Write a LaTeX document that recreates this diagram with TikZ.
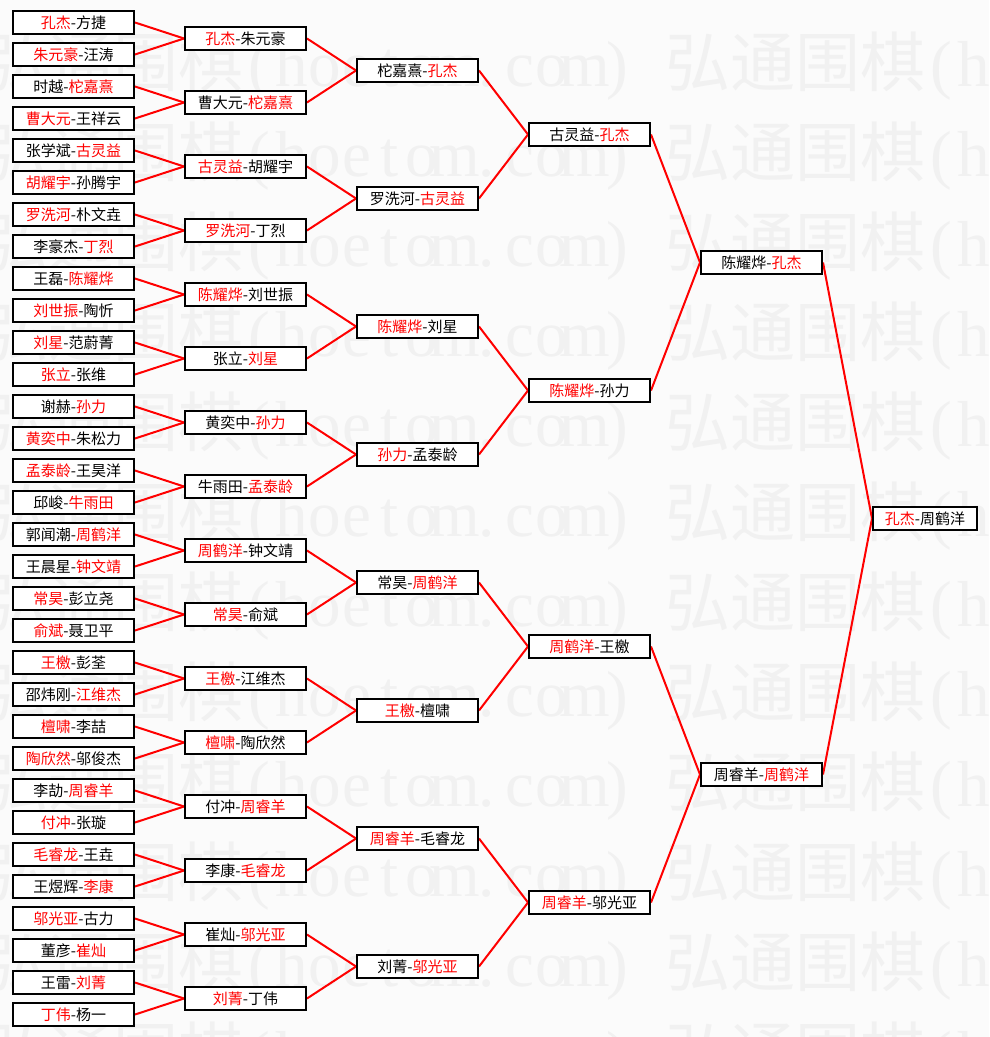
\documentclass[tikz,border=0pt]{standalone}
\usepackage{fontspec}
\newfontfamily\cjk{Noto Sans CJK SC}
\newfontfamily\wmlat{Liberation Serif}
\pgfdeclarelayer{bg}
\pgfsetlayers{bg,main}
\definecolor{wmgray}{RGB}{241,241,241}
\definecolor{pagebg}{RGB}{251,251,251}
\definecolor{winred}{RGB}{255,0,0}
\newcommand\W[1]{\textcolor{winred}{#1}}
\newcommand\hw[1]{\makebox[0.5em][c]{\wmlat #1}}
\newcommand\wmtext{弘通围棋\hw{(}\hw{h}\hw{o}\hw{e}\hw{t}\hw{o}\hw{m}\hw{.}\hw{c}\hw{o}\hw{m}\hw{)}}
\tikzset{
  pbox/.style={draw=black, line width=1.5pt, fill=white, minimum width=90.75pt,
    minimum height=17.25pt, inner sep=0pt, text=black,
    font=\cjk\fontsize{11.25pt}{13pt}\selectfont},
  finalbox/.style={pbox, minimum width=78pt},
  conn/.style={draw=winred, line width=1.5pt},
  wm/.style={anchor=west, inner sep=0pt, text=wmgray,
    font=\cjk\fontsize{48.75pt}{50pt}\selectfont}
}
\begin{document}
\begin{tikzpicture}[x=0.75pt,y=-0.75pt]
\useasboundingbox (0,0) rectangle (989,1037);
\begin{pgfonlayer}{bg}
  \fill[pagebg] (0,0) rectangle (989,1037);
  \begin{scope}
    \clip (0,0) rectangle (989,1037);
    \foreach \k in {0,...,11}{
      \node[wm] (wmA\k) at (-17, 66+90*\k) {\wmtext};
      \node[wm] (wmB\k) at (665, 66+90*\k) {\wmtext};
    }
  \end{scope}
\end{pgfonlayer}

% round 1 (32 players)
\foreach \t [count=\i from 0] in {
  {\W{孔杰}-方捷}, {\W{朱元豪}-汪涛}, {时越-\W{柁嘉熹}}, {\W{曹大元}-王祥云},
  {张学斌-\W{古灵益}}, {\W{胡耀宇}-孙腾宇}, {\W{罗洗河}-朴文垚}, {李豪杰-\W{丁烈}},
  {王磊-\W{陈耀烨}}, {\W{刘世振}-陶忻}, {\W{刘星}-范蔚菁}, {\W{张立}-张维},
  {谢赫-\W{孙力}}, {\W{黄奕中}-朱松力}, {\W{孟泰龄}-王昊洋}, {邱峻-\W{牛雨田}},
  {郭闻潮-\W{周鹤洋}}, {王晨星-\W{钟文靖}}, {\W{常昊}-彭立尧}, {\W{俞斌}-聂卫平},
  {\W{王檄}-彭荃}, {邵炜刚-\W{江维杰}}, {\W{檀啸}-李喆}, {\W{陶欣然}-邬俊杰},
  {李劼-\W{周睿羊}}, {\W{付冲}-张璇}, {\W{毛睿龙}-王垚}, {王煜辉-\W{李康}},
  {\W{邬光亚}-古力}, {董彦-\W{崔灿}}, {王雷-\W{刘菁}}, {\W{丁伟}-杨一}}
  \node[pbox] (a\i) at (73.5, 22.5+32*\i) {\t};

% round 2
\foreach \t [count=\i from 0] in {
  {\W{孔杰}-朱元豪}, {曹大元-\W{柁嘉熹}}, {\W{古灵益}-胡耀宇}, {\W{罗洗河}-丁烈},
  {\W{陈耀烨}-刘世振}, {张立-\W{刘星}}, {黄奕中-\W{孙力}}, {牛雨田-\W{孟泰龄}},
  {\W{周鹤洋}-钟文靖}, {\W{常昊}-俞斌}, {\W{王檄}-江维杰}, {\W{檀啸}-陶欣然},
  {付冲-\W{周睿羊}}, {李康-\W{毛睿龙}}, {崔灿-\W{邬光亚}}, {\W{刘菁}-丁伟}}
  \node[pbox] (b\i) at (245.5, 38.5+64*\i) {\t};

% round 3
\foreach \t [count=\i from 0] in {
  {柁嘉熹-\W{孔杰}}, {罗洗河-\W{古灵益}}, {\W{陈耀烨}-刘星}, {\W{孙力}-孟泰龄},
  {常昊-\W{周鹤洋}}, {\W{王檄}-檀啸}, {\W{周睿羊}-毛睿龙}, {刘菁-\W{邬光亚}}}
  \node[pbox] (c\i) at (417.5, 70.5+128*\i) {\t};

% round 4
\foreach \t [count=\i from 0] in {
  {古灵益-\W{孔杰}}, {\W{陈耀烨}-孙力}, {\W{周鹤洋}-王檄}, {\W{周睿羊}-邬光亚}}
  \node[pbox] (d\i) at (589.5, 134.5+256*\i) {\t};

% round 5
\node[pbox] (e0) at (761.5, 262.5) {陈耀烨-\W{孔杰}};
\node[pbox] (e1) at (761.5, 774.5) {周睿羊-\W{周鹤洋}};

% final
\node[finalbox] (f0) at (925, 518.5) {\W{孔杰}-周鹤洋};

\begin{pgfonlayer}{bg}
  \foreach \i in {0,...,15}{
    \pgfmathtruncatemacro\ia{2*\i}
    \pgfmathtruncatemacro\ib{2*\i+1}
    \draw[conn] (a\ia.east) -- (b\i.west);
    \draw[conn] (a\ib.east) -- (b\i.west);
  }
  \foreach \i in {0,...,7}{
    \pgfmathtruncatemacro\ia{2*\i}
    \pgfmathtruncatemacro\ib{2*\i+1}
    \draw[conn] (b\ia.east) -- (c\i.west);
    \draw[conn] (b\ib.east) -- (c\i.west);
  }
  \foreach \i in {0,...,3}{
    \pgfmathtruncatemacro\ia{2*\i}
    \pgfmathtruncatemacro\ib{2*\i+1}
    \draw[conn] (c\ia.east) -- (d\i.west);
    \draw[conn] (c\ib.east) -- (d\i.west);
  }
  \foreach \i in {0,1}{
    \pgfmathtruncatemacro\ia{2*\i}
    \pgfmathtruncatemacro\ib{2*\i+1}
    \draw[conn] (d\ia.east) -- (e\i.west);
    \draw[conn] (d\ib.east) -- (e\i.west);
  }
  \draw[conn] (e0.east) -- (f0.west);
  \draw[conn] (e1.east) -- (f0.west);
\end{pgfonlayer}
\end{tikzpicture}
\end{document}
